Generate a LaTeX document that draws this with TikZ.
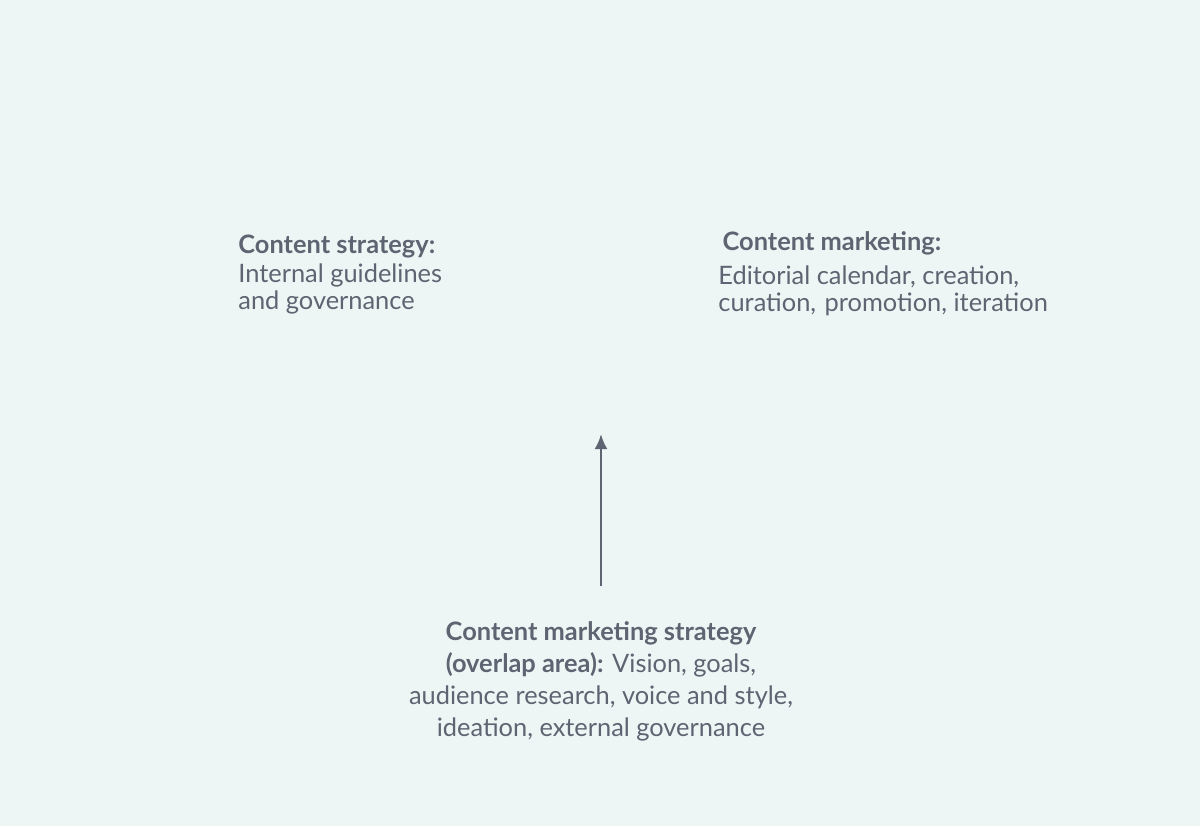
\documentclass[tikz,border=0pt]{standalone}
\usepackage{fontspec}
\setmainfont{Lato}
\usetikzlibrary{arrows.meta}
\definecolor{bgmint}{HTML}{EEF6F5}
\definecolor{txtgray}{HTML}{5E6471}

\begin{document}
\begin{tikzpicture}
    [x=0.5pt, y=-0.5pt,
    every node/.style ={text = txtgray, inner sep = 0pt},
    body/.style ={font = \fontsize{12.7}{13.5}\selectfont, align = left, anchor = base west},
    centrebody/.style ={font = \fontsize{12.7}{16}\selectfont, align = center, anchor = base},
    pointer/.style ={draw = txtgray, line width = 1.4pt, -{Latex[length=7.5pt,width=6.5pt]}}
    ]
    \fill[bgmint] (0,0) rectangle (1200,826);

    \node (strategy) [body] at (238,309)
        {\textbf{Content strategy:}\\[1pt] Internal guidelines\\ and governance};
    \node (marketing) [body] at (718,311)
        {\,\textbf{Content marketing:}\\[3.5pt] Editorial calendar, creation,\\ curation,\hspace{1pt} promotion, iteration};
    \node (overlap) [centrebody] at (601,736)
        {\textbf{Content marketing strategy}\\ \textbf{(overlap area):} Vision, goals,\\ audience research, voice and style,\\ ideation, external governance};

    \coordinate (tail) at (601,586);
    \coordinate (tip) at (601,434);
    \draw [pointer] (tail) -- (tip);
\end{tikzpicture}
\end{document}
